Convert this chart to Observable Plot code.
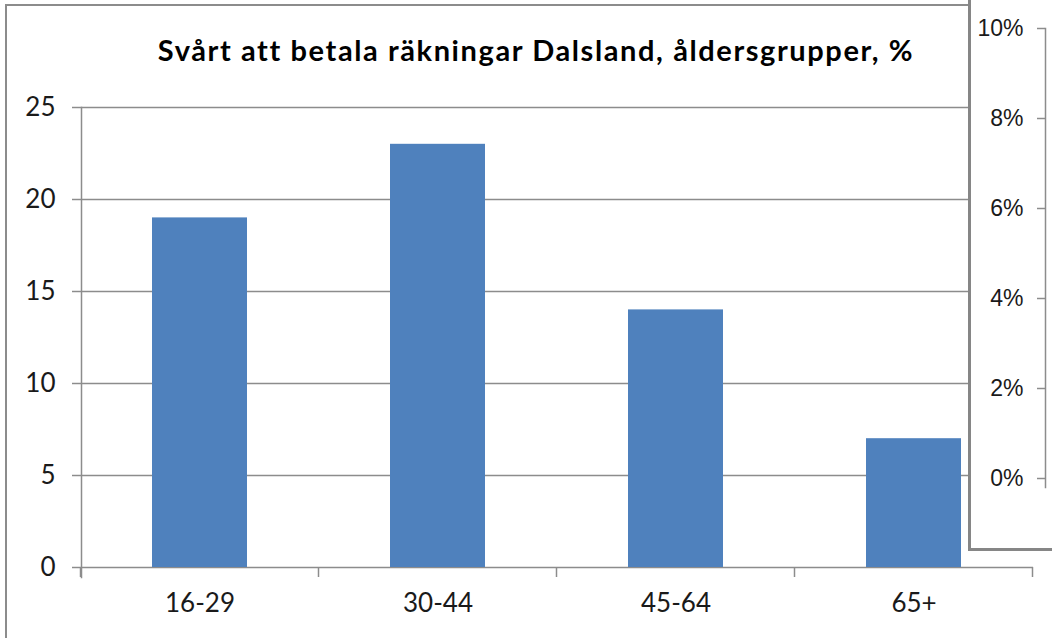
<!DOCTYPE html>
<html><head><meta charset="utf-8">
<script src="https://cdn.jsdelivr.net/npm/d3@7"></script>
<script src="https://cdn.jsdelivr.net/npm/@observablehq/plot@0.6"></script>
<style>
html,body{margin:0;padding:0;background:#fff;overflow:hidden}
#wrap{position:relative;width:1052px;height:638px;overflow:hidden;background:#fff}
#outer{position:absolute;left:5px;top:4px;width:1200px;height:800px;border:2px solid #8c8c8c;background:#fff}
#main{position:absolute;left:0;top:0}
#main svg{display:block}
#title{position:absolute;left:0;width:1072px;top:35px;text-align:center;font-family:Lato,sans-serif;font-weight:bold;font-size:29px;letter-spacing:1.6px;line-height:1;color:#000;white-space:nowrap}
#panel{position:absolute;left:968px;top:-10px;width:120px;height:558px;border-left:3px solid #868686;border-bottom:3px solid #868686;background:#fff}
#panel svg{position:absolute;left:0;top:10px;display:block}
</style></head><body>
<div id="wrap"><div id="outer"></div><div id="main"></div><div id="title"></div><div id="panel"></div></div>
<script>
const categories = ["16-29", "30-44", "45-64", "65+"];
const values = [19, 23, 14, 7];
const yTicks = [0, 5, 10, 15, 20, 25];
const pctTicks = [0, 0.02, 0.04, 0.06, 0.08, 0.10];
const titleText = "Svårt att betala räkningar Dalsland, åldersgrupper, %";

const data = categories.map((c, i) => ({cat: c, value: values[i]}));
const gray = "#8c8c8c";

function boundaryTicks(index, scales, vals, dimensions) {
  const x = scales.x, y = scales.y;
  const bw = x.bandwidth(), step = x.step();
  const gap = (step - bw) / 2;
  const xs = categories.map(c => x(c) - gap).concat([x(categories[categories.length - 1]) + bw + gap]);
  const y0 = y(0);
  const g = d3.create("svg:g").attr("stroke", gray).attr("stroke-width", 1.5);
  g.selectAll("line").data(xs).join("line")
    .attr("x1", d => d).attr("x2", d => d).attr("y1", y0).attr("y2", y0 + 10);
  return g.node();
}

const main = Plot.plot({
  width: 1052, height: 638,
  marginLeft: 81, marginRight: 19, marginTop: 107, marginBottom: 71,
  style: {background: "transparent", fontFamily: "Lato, sans-serif", fontSize: "26px", color: "#1a1a1a"},
  x: {domain: categories, paddingInner: 0.6, paddingOuter: 0.3, label: null},
  y: {domain: [0, 25], label: null},
  marks: [
    Plot.ruleY(yTicks, {stroke: gray, strokeWidth: 1.5}),
    Plot.barY(data, {x: "cat", y: "value", fill: "#4f81bd"}),
    Plot.frame({anchor: "left", stroke: gray, strokeWidth: 1.5, insetBottom: -10}),
    boundaryTicks,
    Plot.axisY({ticks: yTicks, tickSize: 9, tickPadding: 17, fontSize: 26, stroke: gray, strokeWidth: 1.5, label: null}),
    Plot.axisX({tickSize: 0, tickPadding: 26, fontSize: 26, label: null})
  ]
});
document.getElementById("main").appendChild(main);
document.getElementById("title").textContent = titleText;

const panel = Plot.plot({
  width: 81, height: 548,
  marginLeft: 74, marginRight: 7, marginTop: 28, marginBottom: 70,
  style: {background: "transparent", fontFamily: "'Liberation Sans Narrow', 'Arial Narrow', sans-serif", fontSize: "23px", color: "#1a1a1a"},
  y: {domain: [0, 0.1], label: null},
  marks: [
    Plot.frame({anchor: "left", stroke: gray, strokeWidth: 1.5, insetBottom: -9}),
    Plot.tickY(pctTicks, {y: d => d, stroke: gray, strokeWidth: 1.5}),
    Plot.axisY({ticks: pctTicks, tickFormat: d3.format(".0%"), tickSize: 8, tickPadding: 14, fontSize: 23, stroke: gray, strokeWidth: 1.5, label: null})
  ]
});
document.getElementById("panel").appendChild(panel);
</script>
</body></html>
